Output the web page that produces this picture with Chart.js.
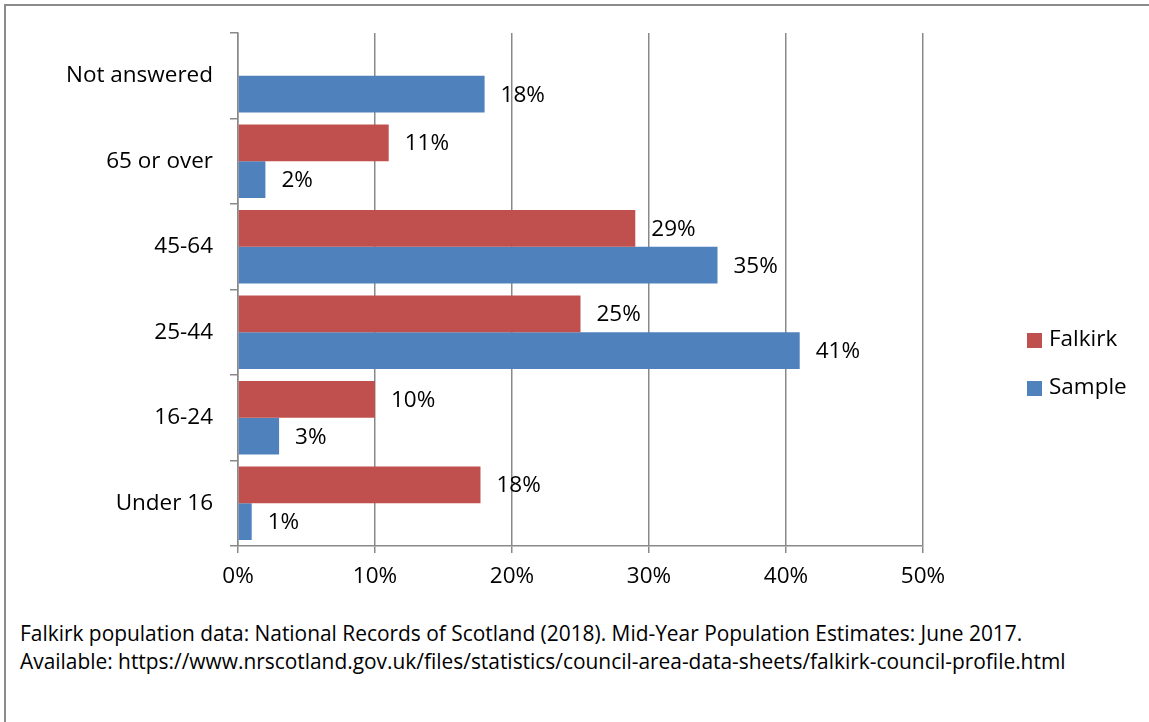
<!DOCTYPE html>
<html>
<head>
<meta charset="utf-8">
<script src="https://cdn.jsdelivr.net/npm/chart.js@4.4.1/dist/chart.umd.min.js"></script>
<style>
  body { margin: 0; background: #fff; }
  #wrap { position: relative; width: 1149px; height: 722px; overflow: hidden; font-family: 'Open Sans', sans-serif; }
  #frame { position: absolute; left: 4px; top: 4px; right: -10px; bottom: -10px; border-top: 2px solid #8c8c8c; border-left: 2px solid #8c8c8c; }
  #cv { position: absolute; left: 0; top: 0; }
  #note { position: absolute; left: 20px; top: 619px; font-size: 20.9px; line-height: 28px; color: #000; white-space: nowrap; }
</style>
</head>
<body>
<div id="wrap">
  <div id="frame"></div>
  <canvas id="cv" width="1149" height="600"></canvas>
  <div id="note">Falkirk population data: National Records of Scotland (2018). Mid-Year Population Estimates: June 2017.<br>Available: https://www.nrscotland.gov.uk/files/statistics/council-area-data-sheets/falkirk-council-profile.html</div>
</div>
<script>
var categories = ['Not answered', '65 or over', '45-64', '25-44', '16-24', 'Under 16'];
var falkirk = [null, 11, 29, 25, 10, 17.7];
var sample = [18, 2, 35, 41, 3, 1];
var xTicks = [0, 10, 20, 30, 40, 50];

var fnt = "'Open Sans', sans-serif";
var gridCol = '#898989';

// value labels to the right of each bar
var barLabels = {
  id: 'barLabels',
  afterDatasetsDraw: function (chart) {
    var ctx = chart.ctx;
    ctx.save();
    ctx.font = '22.5px ' + fnt;
    ctx.fillStyle = '#000';
    ctx.textAlign = 'left';
    ctx.textBaseline = 'middle';
    chart.data.datasets.forEach(function (ds, i) {
      chart.getDatasetMeta(i).data.forEach(function (bar, j) {
        if (ds.data[j] == null) return;
        ctx.fillText(Math.round(ds.data[j]) + '%', bar.x + 16, bar.y + 1);
      });
    });
    ctx.restore();
  }
};

// legend drawn at the right side
var sideLegend = {
  id: 'sideLegend',
  afterDraw: function (chart) {
    var ctx = chart.ctx;
    ctx.save();
    ctx.font = '22.5px ' + fnt;
    ctx.textBaseline = 'middle';
    chart.data.datasets.forEach(function (ds, i) {
      var y = 340 + i * 48;
      ctx.fillStyle = ds.backgroundColor;
      ctx.fillRect(1027, y - 7, 15, 15);
      ctx.fillStyle = '#000';
      ctx.fillText(ds.label, 1049, y);
    });
    ctx.restore();
  }
};

var ctx = document.getElementById('cv').getContext('2d');
var chart = new Chart(ctx, {
  type: 'bar',
  data: {
    labels: categories,
    datasets: [
      { label: 'Falkirk', data: falkirk, backgroundColor: '#C0504D', categoryPercentage: 0.86, barPercentage: 1 },
      { label: 'Sample', data: sample, backgroundColor: '#4F81BD', categoryPercentage: 0.86, barPercentage: 1 }
    ]
  },
  options: {
    indexAxis: 'y',
    responsive: false,
    animation: false,
    layout: { padding: { top: 33, right: 226, left: 0, bottom: 0 } },
    plugins: { legend: { display: false }, tooltip: { enabled: false } },
    scales: {
      x: {
        min: 0, max: 50,
        afterBuildTicks: function (s) { s.ticks = xTicks.map(function (v) { return { value: v }; }); },
        afterFit: function (s) { s.height = 54; },
        grid: { color: gridCol, lineWidth: 1.5, tickLength: 7 },
        border: { color: gridCol, width: 1.5 },
        ticks: { color: '#000', font: { family: fnt, size: 22.5 }, padding: 10, callback: function (v) { return v + '%'; } }
      },
      y: {
        afterFit: function (s) { s.width = 238; },
        grid: { color: gridCol, lineWidth: 1.5, drawOnChartArea: false, tickLength: 8, offset: true },
        border: { color: gridCol, width: 1.5 },
        ticks: { color: '#000', font: { family: fnt, size: 22.5 }, padding: 17 }
      }
    }
  },
  plugins: [barLabels, sideLegend]
});
</script>
</body>
</html>
